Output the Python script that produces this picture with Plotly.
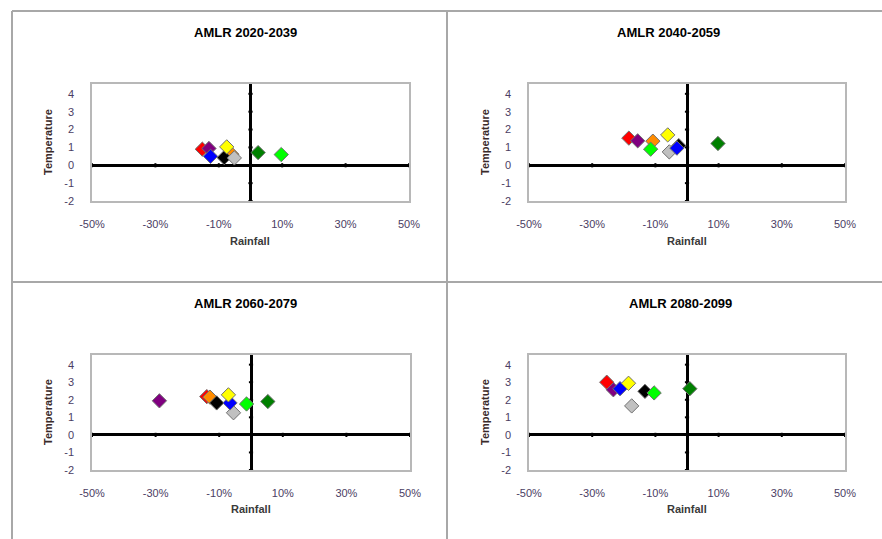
import plotly.graph_objects as go

W, H = 882, 539

# Model colours (one per GCM), drawn in this order
colors = ["#ff0000", "#ff8c00", "#800080", "#000000", "#c0c0c0",
          "#0000ff", "#00ff00", "#ffff00", "#008000"]

# Change in rainfall (fraction) and temperature (deg C) per period
rain_2020 = [-0.152, -0.059, -0.131, -0.083, -0.051, -0.126, 0.097, -0.075, 0.024]
temp_2020 = [0.90, 0.62, 0.94, 0.43, 0.41, 0.50, 0.60, 1.03, 0.71]

rain_2040 = [-0.184, -0.108, -0.156, -0.026, -0.056, -0.032, -0.115, -0.061, 0.098]
temp_2040 = [1.52, 1.35, 1.37, 1.10, 0.75, 0.96, 0.90, 1.70, 1.22]

rain_2060 = [-0.139, -0.129, -0.288, -0.108, -0.055, -0.066, -0.014, -0.071, 0.053]
temp_2060 = [2.18, 2.15, 1.94, 1.82, 1.26, 1.82, 1.76, 2.28, 1.90]

rain_2080 = [-0.254, None, -0.233, -0.133, -0.175, -0.212, -0.104, -0.185, 0.009]
temp_2080 = [3.00, None, 2.57, 2.48, 1.65, 2.63, 2.39, 2.94, 2.63]

titles = ["AMLR 2020-2039", "AMLR 2040-2059", "AMLR 2060-2079", "AMLR 2080-2099"]
x_ticks = [-0.5, -0.3, -0.1, 0.1, 0.3, 0.5]
y_ticks = [-2, -1, 0, 1, 2, 3, 4]
x_labels = [f"{round(v * 100)}%" for v in x_ticks]
y_labels = [str(v) for v in y_ticks]
x_range = [-0.5, 0.5]
y_range = [-2, 4.55]

panels = [(rain_2020, temp_2020), (rain_2040, temp_2040),
          (rain_2060, temp_2060), (rain_2080, temp_2080)]

# Plot boxes in pixels: (left, right, top, bottom)
boxes = [(92, 409, 84, 201), (529, 845, 84, 201),
         (92, 410, 355, 470), (529, 845, 355, 470)]
title_pos = [(246, 33), (668, 33), (246, 303), (680, 303)]

def px(x):
    return x / W

def py(y):
    return 1 - y / H

FONT = "Liberation Sans, Arial, sans-serif"
TICK_COLOR = "#4b3d63"

fig = go.Figure()
layout = dict(width=W, height=H, autosize=False,
              margin=dict(l=0, r=0, t=0, b=0, pad=0, autoexpand=False),
              paper_bgcolor="white", plot_bgcolor="white",
              showlegend=False, font=dict(family=FONT))
annotations = []
shapes = []

for i, ((rain, temp), (l, r, t, b)) in enumerate(zip(panels, boxes)):
    n = i + 1
    xa = "x" if n == 1 else f"x{n}"
    ya = "y" if n == 1 else f"y{n}"
    layout["xaxis" if n == 1 else f"xaxis{n}"] = dict(
        domain=[px(l), px(r)], anchor=ya, range=x_range,
        tickvals=x_ticks, ticktext=x_labels, showgrid=False,
        zeroline=True, zerolinecolor="black", zerolinewidth=3,
        showline=True, mirror=True, linecolor="#b8b8b8", linewidth=1.5,
        ticks="", ticklabelstandoff=12, automargin=False,
        tickfont=dict(size=11, color=TICK_COLOR, family=FONT),
        fixedrange=True)
    layout["yaxis" if n == 1 else f"yaxis{n}"] = dict(
        domain=[py(b), py(t)], anchor=xa, range=y_range,
        tickvals=y_ticks, ticktext=y_labels, showgrid=False,
        zeroline=True, zerolinecolor="black", zerolinewidth=3,
        showline=True, mirror=True, linecolor="#b8b8b8", linewidth=1.5,
        ticks="", ticklabelstandoff=14, automargin=False,
        tickfont=dict(size=11, color=TICK_COLOR, family=FONT),
        fixedrange=True)

    # small cross ticks on the axes through the origin
    fig.add_trace(go.Scatter(
        x=x_ticks, y=[0] * len(x_ticks), xaxis=xa, yaxis=ya, mode="markers",
        marker=dict(symbol="line-ns", size=3, line=dict(color="black", width=2)),
        hoverinfo="skip"))
    fig.add_trace(go.Scatter(
        x=[0] * len(y_ticks), y=y_ticks, xaxis=xa, yaxis=ya, mode="markers",
        marker=dict(symbol="line-ew", size=3, line=dict(color="black", width=2)),
        hoverinfo="skip"))

    for c, xv, yv in zip(colors, rain, temp):
        if xv is None:
            continue
        fig.add_trace(go.Scatter(
            x=[xv], y=[yv], xaxis=xa, yaxis=ya, mode="markers",
            marker=dict(symbol="diamond", size=11, color=c,
                        line=dict(color="#707070", width=1))))

    cx = (l + r) / 2
    annotations.append(dict(text="<b>Rainfall</b>", x=px(cx), y=py(241 if n <= 2 else 509),
                            xref="paper", yref="paper", showarrow=False,
                            xanchor="center", yanchor="middle",
                            font=dict(size=11, color="#3a3a3a", family=FONT)))
    annotations.append(dict(text="<b>Temperature</b>", x=px(48 if n % 2 else 485),
                            y=py(142 if n <= 2 else 412),
                            xref="paper", yref="paper", showarrow=False, textangle=-90,
                            xanchor="center", yanchor="middle",
                            font=dict(size=11, color="#3a2a2a", family=FONT)))
    tx, ty = title_pos[i]
    annotations.append(dict(text=f"<b>{titles[i]}</b>", x=px(tx), y=py(ty),
                            xref="paper", yref="paper", showarrow=False,
                            xanchor="center", yanchor="middle",
                            font=dict(size=13, color="black", family=FONT)))

# panel frame lines
frame = "#a8a8a8"
for x0, y0, x1, y1 in [(12, 11, W, 11), (12, 11, 12, H),
                       (447, 11, 447, H), (12, 282, W, 282)]:
    shapes.append(dict(type="line", xref="paper", yref="paper",
                       x0=px(x0), y0=py(y0), x1=px(x1), y1=py(y1),
                       line=dict(color=frame, width=2)))

layout["annotations"] = annotations
layout["shapes"] = shapes
fig.update_layout(**layout)
fig.write_html("out.html")
